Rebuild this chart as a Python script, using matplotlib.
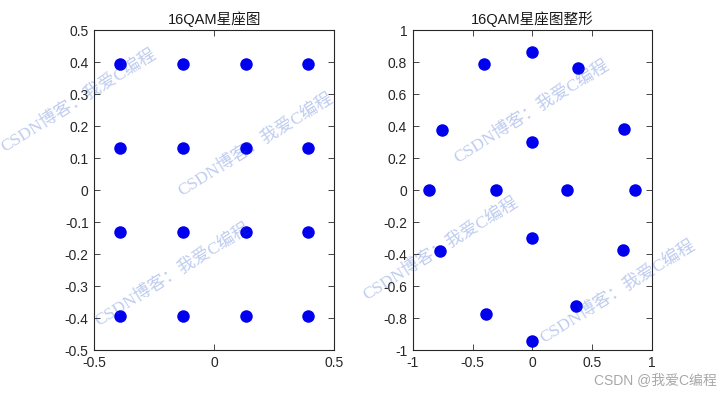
import matplotlib
matplotlib.use('Agg')
import matplotlib.pyplot as plt

# 16QAM points (left) : 4 x 4 grid
qam_levels = [-0.393, -0.131, 0.131, 0.393]
qam_i = [i for q in qam_levels for i in qam_levels]
qam_q = [q for q in qam_levels for i in qam_levels]

# shaped constellation (right)
shaped_i = [-0.40, 0.00, 0.385, -0.755, 0.77, 0.00, -0.86, -0.30,
            0.29, 0.86, 0.00, -0.77, 0.76, -0.39, 0.365, 0.00]
shaped_q = [0.79, 0.86, 0.76, 0.376, 0.382, 0.30, 0.00, 0.00,
            0.00, 0.00, -0.296, -0.382, -0.376, -0.771, -0.723, -0.944]

left_ticks_x = [-0.5, 0, 0.5]
left_ticks_y = [-0.5, -0.4, -0.3, -0.2, -0.1, 0, 0.1, 0.2, 0.3, 0.4, 0.5]
right_ticks_x = [-1, -0.5, 0, 0.5, 1]
right_ticks_y = [-1, -0.8, -0.6, -0.4, -0.2, 0, 0.2, 0.4, 0.6, 0.8, 1]

titles = ['16QAM星座图', '16QAM星座图整形']
watermark = 'CSDN博客：我爱C编程'
# watermark centres in figure pixels (from top-left)
wm_pos = [(79, 101), (256, 145), (173, 275), (532, 112), (441, 249), (618, 292)]

W, H = 722, 394
fig = plt.figure(figsize=(W / 100, H / 100), dpi=100)
plt.rcParams['font.family'] = ['Liberation Sans', 'Noto Sans CJK SC']

ax_col = '#262626'

def fmt(v):
    return '%g' % v

def style(ax, xt, yt, xl, yl, title):
    ax.set_xlim(xl)
    ax.set_ylim(yl)
    ax.set_xticks(xt)
    ax.set_yticks(yt)
    ax.set_xticklabels([fmt(v) for v in xt])
    ax.set_yticklabels([fmt(v) for v in yt])
    ax.tick_params(direction='in', length=4, width=0.6, colors=ax_col,
                   labelsize=10, top=True, right=True, pad=4)
    for s in ax.spines.values():
        s.set_linewidth(0.8)
        s.set_color(ax_col)
    ax.set_title(title, fontsize=10.5, color='#1a1a1a', pad=4)

ax1 = fig.add_axes([94.3 / W, (H - 350.3) / H, 239.7 / W, 320.3 / H])
ax1.plot(qam_i, qam_q, 'o', color='#0000ee', markersize=9, markeredgewidth=0)
style(ax1, left_ticks_x, left_ticks_y, (-0.5, 0.5), (-0.5, 0.5), titles[0])

ax2 = fig.add_axes([412.7 / W, (H - 350.3) / H, 239.3 / W, 320.3 / H])
ax2.plot(shaped_i, shaped_q, 'o', color='#0000ee', markersize=9, markeredgewidth=0)
style(ax2, right_ticks_x, right_ticks_y, (-1, 1), (-1, 1), titles[1])

# watermarks
for (px, py) in wm_pos:
    fig.text(px / W, 1 - py / H, watermark, rotation=32, ha='center', va='center',
             rotation_mode='anchor', fontsize=12.5, color='#1648c6', alpha=0.28,
             fontweight='light',
             family=['Liberation Serif', 'Noto Sans CJK SC'], zorder=10)

fig.text(655 / W, 1 - 380 / H, 'CSDN @我爱C编程', ha='center', va='center',
         fontsize=10, color='#a8a8a8', fontweight='light',
         family=['Liberation Sans', 'Noto Sans CJK SC'])

fig.savefig('out.png', dpi=100)
